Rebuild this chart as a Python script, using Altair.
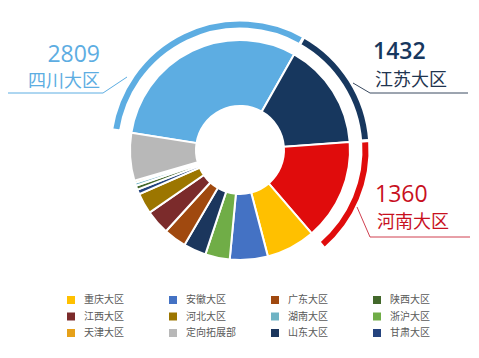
import math
import altair as alt
import pandas as pd

# ---- data ----
regions = ["四川大区", "江苏大区", "河南大区", "重庆大区", "安徽大区", "浙沪大区", "山东大区",
           "广东大区", "江西大区", "河北大区", "甘肃大区", "陕西大区", "湖南大区", "天津大区", "定向拓展部"]
values = [2809, 1432, 1360, 660, 510, 330, 305, 305, 330, 280, 65, 55, 40, 30, 640]
colors = ["#5DADE2", "#17375E", "#E00C0C", "#FFC000", "#4472C4", "#70AD47", "#1B365D",
          "#A0490F", "#7B2B2B", "#9C7600", "#24437E", "#43682B", "#6FB3C4", "#E6A11A", "#B8B8B8"]
# legend rows as shown in the reference (read left to right, top to bottom)
legend_rows = [["重庆大区", "安徽大区", "广东大区", "陕西大区"],
               ["江西大区", "河北大区", "湖南大区", "浙沪大区"],
               ["天津大区", "定向拓展部", "山东大区", "甘肃大区"]]
highlight = ["四川大区", "江苏大区", "河南大区"]

# the legend grid fills column by column, so feed entries column-major
legend_values = [legend_rows[r][c] for c in range(4) for r in range(len(legend_rows))]

df = pd.DataFrame({"region": regions, "value": values, "order": list(range(len(regions)))})

CX, CY = 232, 142
start = math.radians(-81)
FONT_CJK = "Noto Sans CJK SC"

theta = alt.Theta("value:Q", stack=True,
                  scale=alt.Scale(range=[start, start + 2 * math.pi]))
color = alt.Color("region:N",
                  scale=alt.Scale(domain=regions, range=colors),
                  legend=alt.Legend(
                      values=legend_values, title=None, orient="none",
                      legendX=58, legendY=287, columns=4, gridAlign="all",
                      columnPadding=34, rowPadding=6.5, padding=0,
                      symbolType="square", symbolSize=64, symbolStrokeWidth=0,
                      labelOffset=8, labelFont=FONT_CJK, labelFontSize=10,
                      labelColor="#595959"))
order = alt.Order("order:Q")

base = alt.Chart(df)
donut = base.mark_arc(innerRadius=44, outerRadius=110, stroke="white", strokeWidth=2).encode(
    theta=theta, color=color, order=order, x=alt.value(CX), y=alt.value(CY))
ring = base.mark_arc(innerRadius=121, outerRadius=130, stroke="white", strokeWidth=3).encode(
    theta=theta, color=color, order=order,
    opacity=alt.condition(alt.FieldOneOfPredicate(field="region", oneOf=highlight),
                          alt.value(1), alt.value(0)),
    x=alt.value(CX), y=alt.value(CY))

one = pd.DataFrame({"k": [0]})


def txt(text, x, y, col, size, font, align="left", weight="normal"):
    return alt.Chart(one).mark_text(text=text, align=align, baseline="alphabetic", color=col,
                                    fontSize=size, font=font, fontWeight=weight).encode(
        x=alt.value(x), y=alt.value(y))


def seg(x, y, x2, y2, col):
    return alt.Chart(one).mark_rule(color=col, strokeWidth=1).encode(
        x=alt.value(x), y=alt.value(y), x2=alt.value(x2), y2=alt.value(y2))


layers = [donut, ring,
          # 四川
          seg(119, 69, 95, 85, "#5DADE2"), seg(95, 85, 0, 85, "#5DADE2"),
          txt(str(values[0]), 92, 54, "#5DADE2", 23, "Open Sans", "right"),
          txt(regions[0], 92, 79, "#5DADE2", 18, FONT_CJK, "right"),
          # 江苏
          seg(345, 75, 362, 85, "#3A4A60"), seg(362, 85, 460, 85, "#3A4A60"),
          txt(str(values[1]), 365, 51, "#17375E", 23, "Open Sans", "left", 600),
          txt(regions[1], 367, 78, "#1F3550", 18, FONT_CJK),
          # 河南
          seg(349, 199, 362, 229, "#D04050"), seg(362, 229, 462, 229, "#D04050"),
          txt(str(values[2]), 367, 194, "#C8101E", 23, "Open Sans"),
          txt(regions[2], 369, 220, "#C8101E", 18, FONT_CJK),
          ]

chart = alt.layer(*layers).properties(
    width=463, height=342, autosize="none", padding=0
).configure_view(stroke=None)

chart.save("out.html", embed_options={"renderer": "svg", "actions": False})
